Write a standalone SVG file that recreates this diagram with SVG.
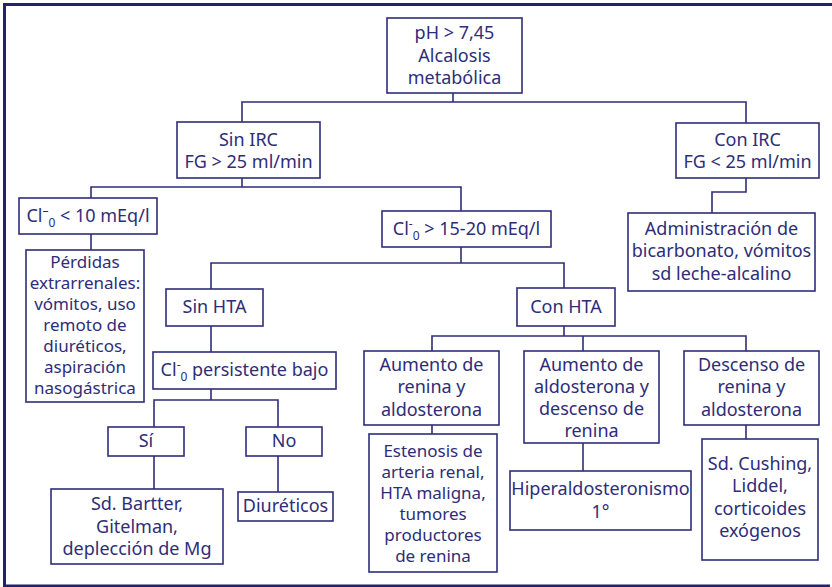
<svg xmlns="http://www.w3.org/2000/svg" width="832" height="587" viewBox="0 0 832 587">
<style>
.b{fill:#fff;stroke:#2e2d78;stroke-width:1.6}
.t{font-family:"Noto Sans","Open Sans",sans-serif;font-size:18px;fill:#2e2d78;text-anchor:middle}
.t2{font-size:17px}
.c{fill:none;stroke:#2e2d78;stroke-width:1.6}
.fr{fill:none;stroke:#23226b;stroke-width:3}
.s{font-size:12px}
</style>
<rect width="832" height="587" fill="#fff"/>
<path class="fr" d="M832,4.5 H4.5 V586 H830"/>
<g id="connectors">
<path class="c" d="M453,93V102M242,122V102H746V123"/>
<path class="c" d="M242,178V187M91,198V187H461V211"/>
<path class="c" d="M746,178V192H712V213"/>
<path class="c" d="M91,234V250"/>
<path class="c" d="M461,247V263M211,289V263H564V288"/>
<path class="c" d="M211,326V352"/>
<path class="c" d="M211,389V400M154,427V400H278V427"/>
<path class="c" d="M154,456V489M278,456V492"/>
<path class="c" d="M564,326V336M432,351V336H746V351M583,336V351"/>
<path class="c" d="M432,425V434M583,443V471M746,425V439"/>
</g>
<g id="n_ph"><rect class="b" x="387" y="18" width="135" height="75"/>
<text class="t" x="454.5" y="39">pH &gt; 7,45</text><text class="t" x="454.5" y="62">Alcalosis</text><text class="t" x="454.5" y="84">metabólica</text></g>
<g id="n_sinirc"><rect class="b" x="177" y="122" width="143" height="56"/>
<text class="t" x="248.5" y="146">Sin IRC</text><text class="t" x="248.5" y="168">FG &gt; 25 ml/min</text></g>
<g id="n_conirc"><rect class="b" x="676" y="123" width="143" height="55"/>
<text class="t" x="747.5" y="146">Con IRC</text><text class="t" x="747.5" y="168">FG &lt; 25 ml/min</text></g>
<g id="n_cl10"><rect class="b" x="19" y="198" width="138" height="36"/>
<text class="t" x="88" y="222">Cl<tspan class="s" dy="-7">–</tspan><tspan class="s" dy="12">0</tspan><tspan dy="-5"> &lt; 10 mEq/l</tspan></text></g>
<g id="n_cl15"><rect class="b" x="382" y="211" width="169" height="36"/>
<text class="t" x="466.5" y="235">Cl<tspan class="s" dy="-7">-</tspan><tspan class="s" dy="12">0</tspan><tspan dy="-5"> &gt; 15-20 mEq/l</tspan></text></g>
<g id="n_admin"><rect class="b" x="628" y="213" width="187" height="78"/>
<text class="t" x="721.5" y="235">Administración de</text><text class="t" x="721.5" y="257">bicarbonato, vómitos</text><text class="t" x="721.5" y="280">sd leche-alcalino</text></g>
<g id="n_perdidas"><rect class="b" x="26" y="250" width="118" height="152"/>
<text class="t t2" x="85" y="268">Pérdidas</text><text class="t t2" x="85" y="289">extrarrenales:</text><text class="t t2" x="85" y="310">vómitos, uso</text><text class="t t2" x="85" y="331">remoto de</text><text class="t t2" x="85" y="352">diuréticos,</text><text class="t t2" x="85" y="373">aspiración</text><text class="t t2" x="85" y="394">nasogástrica</text></g>
<g id="n_sinhta"><rect class="b" x="166" y="289" width="97" height="37"/>
<text class="t" x="214.5" y="313">Sin HTA</text></g>
<g id="n_conhta"><rect class="b" x="517" y="288" width="98" height="38"/>
<text class="t" x="566" y="313">Con HTA</text></g>
<g id="n_clpers"><rect class="b" x="153" y="352" width="183" height="37"/>
<text class="t" x="244.5" y="376">Cl<tspan class="s" dy="-7">-</tspan><tspan class="s" dy="12">0</tspan><tspan dy="-5"> persistente bajo</tspan></text></g>
<g id="n_aumren"><rect class="b" x="364" y="351" width="135" height="74"/>
<text class="t" x="431.5" y="371">Aumento de</text><text class="t" x="431.5" y="393">renina y</text><text class="t" x="431.5" y="416">aldosterona</text></g>
<g id="n_aumaldo"><rect class="b" x="524" y="351" width="135" height="92"/>
<text class="t" x="591.5" y="371">Aumento de</text><text class="t" x="591.5" y="393">aldosterona y</text><text class="t" x="591.5" y="415">descenso de</text><text class="t" x="591.5" y="437">renina</text></g>
<g id="n_desc"><rect class="b" x="684" y="351" width="135" height="74"/>
<text class="t" x="751.5" y="371">Descenso de</text><text class="t" x="751.5" y="393">renina y</text><text class="t" x="751.5" y="416">aldosterona</text></g>
<g id="n_si"><rect class="b" x="108" y="427" width="76" height="29"/>
<text class="t" x="146" y="447">Sí</text></g>
<g id="n_no"><rect class="b" x="246" y="427" width="76" height="29"/>
<text class="t" x="284" y="447">No</text></g>
<g id="n_esten"><rect class="b" x="369" y="434" width="128" height="138"/>
<text class="t t2" x="433" y="457">Estenosis de</text><text class="t t2" x="433" y="478">arteria renal,</text><text class="t t2" x="433" y="499">HTA maligna,</text><text class="t t2" x="433" y="520">tumores</text><text class="t t2" x="433" y="541">productores</text><text class="t t2" x="433" y="562">de renina</text></g>
<g id="n_hiper"><rect class="b" x="510" y="471" width="181" height="59"/>
<text class="t" x="600.5" y="495">Hiperaldosteronismo</text><text class="t" x="600.5" y="518">1°</text></g>
<g id="n_cush"><rect class="b" x="702" y="439" width="116" height="121"/>
<text class="t" x="760" y="470">Sd. Cushing,</text><text class="t" x="760" y="492">Liddel,</text><text class="t" x="760" y="515">corticoides</text><text class="t" x="760" y="537">exógenos</text></g>
<g id="n_bartter"><rect class="b" x="51" y="489" width="172" height="75"/>
<text class="t" x="137" y="510">Sd. Bartter,</text><text class="t" x="137" y="533">Gitelman,</text><text class="t" x="137" y="555">deplección de Mg</text></g>
<g id="n_diur"><rect class="b" x="238" y="492" width="95" height="29"/>
<text class="t" x="285.5" y="512">Diuréticos</text></g>
</svg>
